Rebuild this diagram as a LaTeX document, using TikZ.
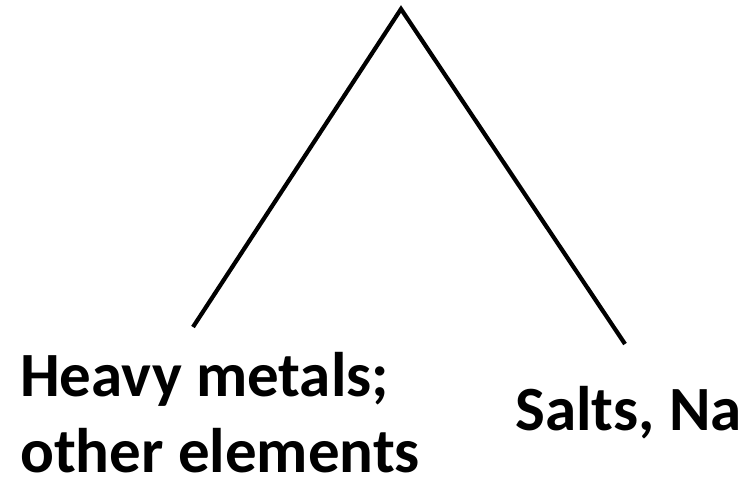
\documentclass[tikz,border=0pt]{standalone}
\usepackage{fontspec}
\setmainfont{Carlito}
\usetikzlibrary{positioning}
\tikzset{
  branch/.style={line width=4.2pt, draw=black},
  label/.style={font=\fontsize{63}{76}\selectfont\bfseries, inner sep=0pt, align=left}
}
\begin{document}
\begin{tikzpicture}[x=1pt, y=-1pt]
  \useasboundingbox (0,0) rectangle (755,479);
  % apex and branch ends
  \coordinate (apex) at (401,9);
  \coordinate (leftend) at (193,327);
  \coordinate (rightend) at (625,344);

  % branches
  \draw[branch] (leftend) -- (apex) -- (rightend);

  % labels
  \node[label, anchor=base west] (heavy) at (20,472) {Heavy metals;\\other elements};
  \node[label, anchor=base west] (salts) at (515,430) {Salts, Na};
\end{tikzpicture}
\end{document}
